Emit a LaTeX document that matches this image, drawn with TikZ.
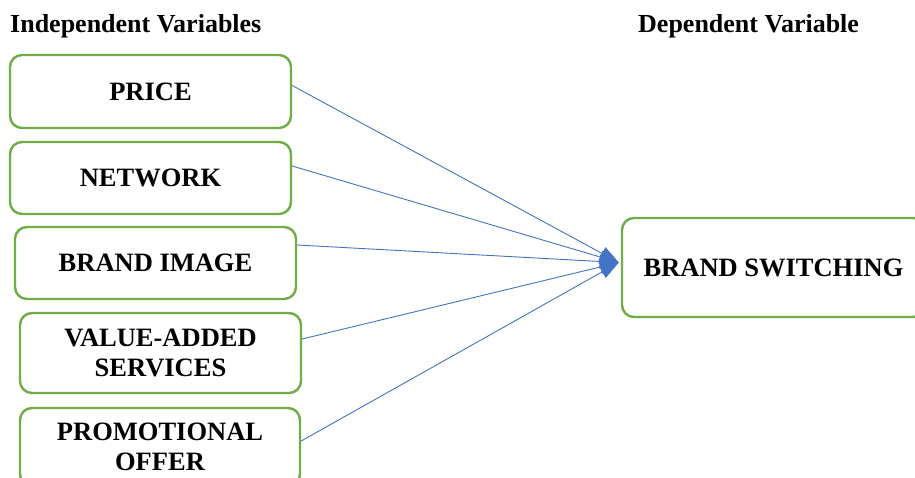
\documentclass[tikz,border=0pt]{standalone}
\usepackage{fontspec}
\setmainfont{Liberation Serif}
\usetikzlibrary{arrows.meta,calc}
\definecolor{boxgreen}{HTML}{70AD47}
\definecolor{arrowblue}{HTML}{4472C4}
\begin{document}
\begin{tikzpicture}[x=1pt,y=-1pt,
  varbox/.style={draw=boxgreen,line width=2.4pt,rounded corners=12pt,fill=white,
    minimum width=#1,inner sep=0pt,align=center,
    font=\fontsize{26.5}{30}\selectfont\bfseries},
  hdr/.style={font=\fontsize{26}{30}\selectfont\bfseries,inner sep=0pt},
  conn/.style={draw=arrowblue,line width=0.9pt,-{Triangle[length=19pt,width=14pt]}}]
\useasboundingbox (0,0) rectangle (915,478);
\clip (0,0) rectangle (915,478);
\node[hdr,anchor=west] (hind) at (10,26) {Independent Variables};
\node[hdr,anchor=west] (hdep) at (638,26) {Dependent Variable};
\node[varbox=281pt,minimum height=73pt] (price) at (150.5,91.5) {PRICE};
\node[varbox=281pt,minimum height=72pt] (network) at (150.5,178) {NETWORK};
\node[varbox=281pt,minimum height=72pt] (image) at (155.5,263) {BRAND IMAGE};
\node[varbox=281pt,minimum height=80pt] (value) at (160.5,353) {VALUE-ADDED\\SERVICES};
\node[varbox=280pt,minimum height=78pt] (promo) at (160,447) {PROMOTIONAL\\OFFER};
\node[varbox=303pt,minimum height=99pt] (bs) at (773.5,267.5) {BRAND SWITCHING};
\coordinate (tgt) at ([xshift=-2pt,yshift=5pt]bs.west);
\draw[conn] ([yshift=6pt]price.east) -- (tgt);
\draw[conn] ([yshift=12pt]network.east) -- (tgt);
\draw[conn] ([yshift=18pt]image.east) -- (tgt);
\draw[conn] ([yshift=14pt]value.east) -- (tgt);
\draw[conn] ([yshift=6pt]promo.east) -- (tgt);
\end{tikzpicture}
\end{document}
